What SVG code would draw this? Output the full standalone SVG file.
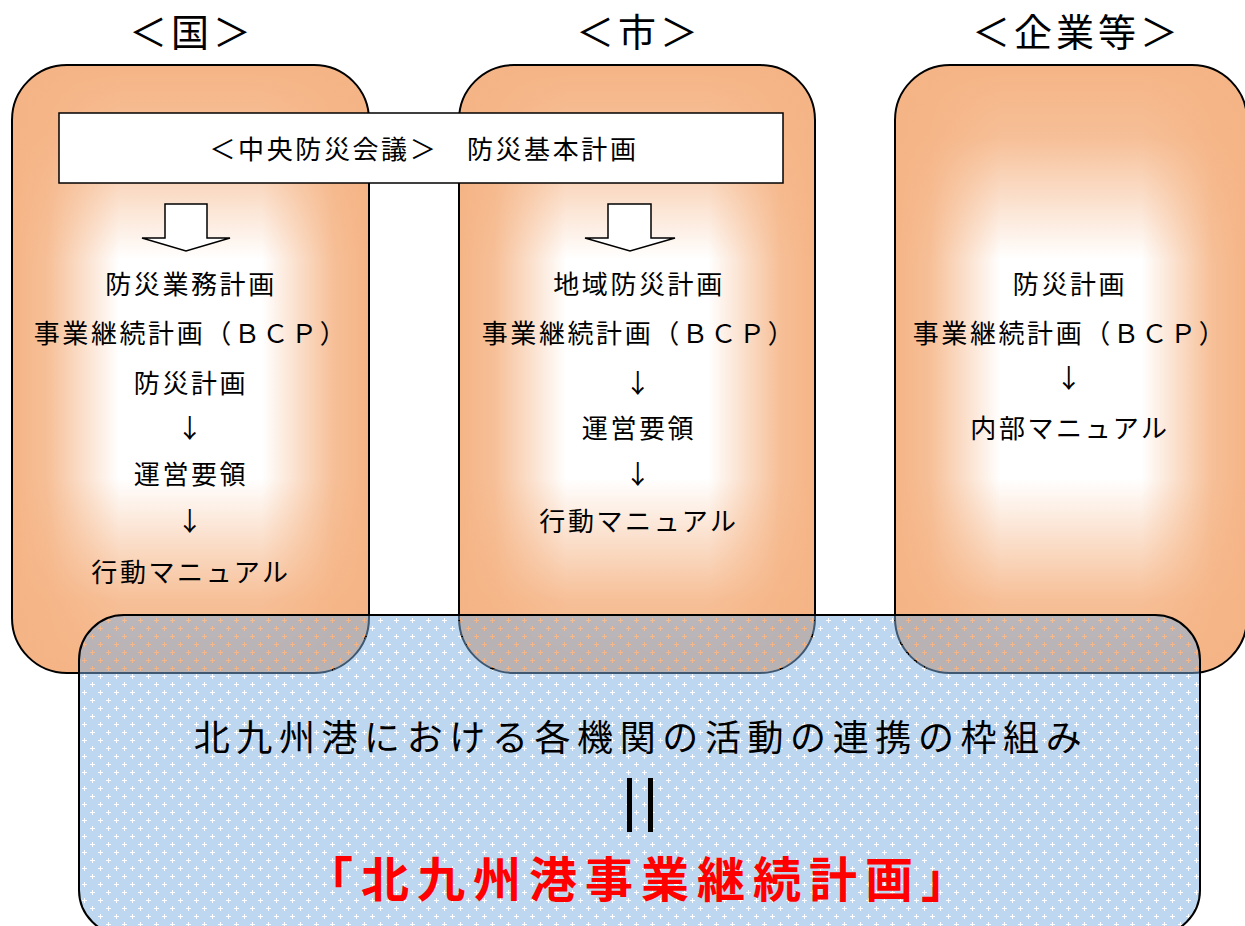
<svg xmlns="http://www.w3.org/2000/svg" width="1245" height="926" viewBox="0 0 1245 926">
<style>
.t{font-family:"Noto Sans CJK JP","Noto Sans",sans-serif;font-size:26px;letter-spacing:2.6px;text-anchor:middle;fill:#000}
.h{font-family:"Noto Sans CJK JP","Noto Sans",sans-serif;font-size:38px;letter-spacing:4px;text-anchor:middle;fill:#000}
.b{font-family:"Noto Sans CJK JP","Noto Sans",sans-serif;font-size:36px;letter-spacing:6.6px;text-anchor:middle;fill:#000}
.r{font-family:"Noto Sans CJK JP","Noto Sans",sans-serif;font-size:48px;font-weight:bold;letter-spacing:8px;text-anchor:middle;fill:#FF0000}
.edge{fill:none;stroke:#000;stroke-width:2}
.arr{fill:#fff;stroke:#000;stroke-width:1.5;stroke-linejoin:miter}
</style>
<defs>
<linearGradient id="hg" x1="0" y1="0" x2="1" y2="0">
<stop offset="0" stop-color="#F5B485" stop-opacity="1"/>
<stop offset="0.1" stop-color="#F5B485" stop-opacity="0.85"/>
<stop offset="0.3" stop-color="#F5B485" stop-opacity="0"/>
<stop offset="0.7" stop-color="#F5B485" stop-opacity="0"/>
<stop offset="0.9" stop-color="#F5B485" stop-opacity="0.85"/>
<stop offset="1" stop-color="#F5B485" stop-opacity="1"/>
</linearGradient>
<linearGradient id="vg" x1="0" y1="0" x2="0" y2="1">
<stop offset="0" stop-color="#F5B485" stop-opacity="1"/>
<stop offset="0.12" stop-color="#F5B485" stop-opacity="0.85"/>
<stop offset="0.32" stop-color="#F5B485" stop-opacity="0"/>
<stop offset="0.68" stop-color="#F5B485" stop-opacity="0"/>
<stop offset="0.88" stop-color="#F5B485" stop-opacity="0.85"/>
<stop offset="1" stop-color="#F5B485" stop-opacity="1"/>
</linearGradient>
<pattern id="dots" width="16" height="16" patternUnits="userSpaceOnUse">
<path fill="#7DAFE1" fill-opacity="0.5" fill-rule="evenodd" d="M0 0H16V16H0Z M2 4H4V2H5V4H7V5H5V7H4V5H2Z M10 12H12V10H13V12H15V13H13V15H12V13H10Z"/>
</pattern>
</defs>

<g id="box-kuni">
<rect x="12" y="65" width="357" height="608" rx="55" fill="#fff"/>
<rect x="12" y="65" width="357" height="608" rx="55" fill="url(#hg)"/>
<rect x="12" y="65" width="357" height="608" rx="55" fill="url(#vg)"/>
<rect x="12" y="65" width="357" height="608" rx="55" class="edge"/>
</g>
<g id="box-shi">
<rect x="459" y="65" width="356" height="608" rx="55" fill="#fff"/>
<rect x="459" y="65" width="356" height="608" rx="55" fill="url(#hg)"/>
<rect x="459" y="65" width="356" height="608" rx="55" fill="url(#vg)"/>
<rect x="459" y="65" width="356" height="608" rx="55" class="edge"/>
</g>
<g id="box-kigyo">
<rect x="895" y="65" width="352" height="608" rx="55" fill="#fff"/>
<rect x="895" y="65" width="352" height="608" rx="55" fill="url(#hg)"/>
<rect x="895" y="65" width="352" height="608" rx="55" fill="url(#vg)"/>
<rect x="895" y="65" width="352" height="608" rx="55" class="edge"/>
</g>

<g id="headers">
<text class="h" x="192" y="46">＜国＞</text>
<text class="h" x="639" y="46">＜市＞</text>
<text class="h" x="1077" y="46">＜企業等＞</text>
</g>

<g id="chuo">
<rect x="59" y="113" width="724" height="70" fill="#fff" stroke="#000" stroke-width="1.5"/>
<text class="t" x="424" y="159">＜中央防災会議＞　防災基本計画</text>
</g>

<g id="connectors">
<path class="arr" d="M165 204H207V238H230L186 251L142 238H165Z"/>
<path class="arr" d="M608 204H651V238H675L630 251L585 238H608Z"/>
</g>

<g id="kuni-text">
<text class="t" x="191" y="294">防災業務計画</text>
<text class="t" x="191" y="343">事業継続計画（ＢＣＰ）</text>
<text class="t" x="191" y="393">防災計画</text>
<text class="t" x="191" y="438">↓</text>
<text class="t" x="191" y="484">運営要領</text>
<text class="t" x="191" y="531">↓</text>
<text class="t" x="191" y="582">行動マニュアル</text>
</g>
<g id="shi-text">
<text class="t" x="639" y="294">地域防災計画</text>
<text class="t" x="639" y="343">事業継続計画（ＢＣＰ）</text>
<text class="t" x="639" y="393">↓</text>
<text class="t" x="639" y="438">運営要領</text>
<text class="t" x="639" y="484">↓</text>
<text class="t" x="639" y="531">行動マニュアル</text>
</g>
<g id="kigyo-text">
<text class="t" x="1070" y="294">防災計画</text>
<text class="t" x="1070" y="343">事業継続計画（ＢＣＰ）</text>
<text class="t" x="1070" y="388">↓</text>
<text class="t" x="1070" y="438">内部マニュアル</text>
</g>

<g id="bcp">
<rect x="79" y="615" width="1121" height="320" rx="45" fill="url(#dots)" stroke="#000" stroke-width="2"/>
<text class="b" x="641" y="751">北九州港における各機関の活動の連携の枠組み</text>
<rect x="627" y="778" width="5" height="54" fill="#000"/>
<rect x="648" y="778" width="5" height="54" fill="#000"/>
<text class="r" x="641" y="897">「北九州港事業継続計画」</text>
</g>
</svg>
